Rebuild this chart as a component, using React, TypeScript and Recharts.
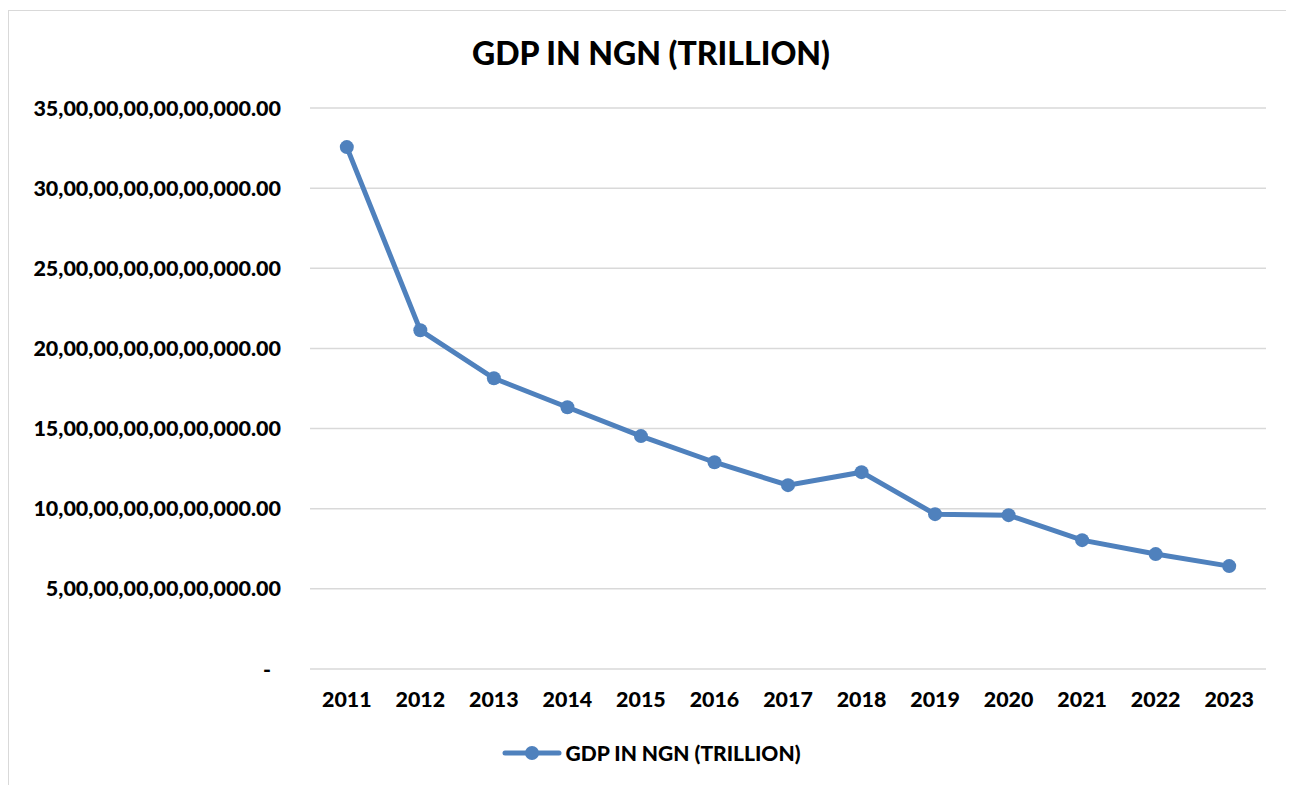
import React from "react";
import { LineChart, Line, XAxis, YAxis, CartesianGrid, Legend } from "recharts";

const years = ["2011","2012","2013","2014","2015","2016","2017","2018","2019","2020","2021","2022","2023"];
const gdpValues = [
  325600000000000, 211300000000000, 181400000000000, 163300000000000, 145300000000000,
  129000000000000, 114700000000000, 122800000000000, 96600000000000, 96000000000000,
  80400000000000, 71700000000000, 64200000000000,
];
const yTicks = [0, 50000000000000, 100000000000000, 150000000000000, 200000000000000, 250000000000000, 300000000000000, 350000000000000];
const seriesName = "GDP IN NGN (TRILLION)";
const title = "GDP IN NGN (TRILLION)";

const data = years.map((y, i) => ({ year: y, gdp: gdpValues[i] }));

const FONT = "Lato, 'Open Sans', sans-serif";
const COLOR = "#4f81bd";

function indian(v: number): string {
  if (v === 0) return "-";
  const s = Math.round(v).toString();
  if (s.length <= 3) return s + ".00";
  const last3 = s.slice(-3);
  let rest = s.slice(0, -3);
  const groups: string[] = [];
  while (rest.length > 2) {
    groups.unshift(rest.slice(-2));
    rest = rest.slice(0, -2);
  }
  if (rest.length) groups.unshift(rest);
  return groups.join(",") + "," + last3 + ".00";
}

const YTick = (props: any) => {
  const { x, y, payload } = props;
  const v = payload.value;
  const label = indian(v);
  const dx = v === 0 ? -10 : 0;
  return (
    <text x={x - 21 + dx} y={y} dy={7.5} textAnchor="end" fontFamily={FONT} fontWeight={900} fontSize={21.5} fill="#000">
      {label}
    </text>
  );
};

const XTick = (props: any) => {
  const { x, y, payload } = props;
  return (
    <text x={x} y={y} dy={30} textAnchor="middle" fontFamily={FONT} fontWeight={900} fontSize={21.4} fill="#000">
      {payload.value}
    </text>
  );
};

const LegendContent = () => (
  <div style={{ display: "flex", alignItems: "center", justifyContent: "center", width: "100%" }}>
    <svg width={60} height={20} style={{ marginRight: 4 }}>
      <line x1={3} y1={10} x2={57} y2={10} stroke={COLOR} strokeWidth={5} strokeLinecap="round" />
      <circle cx={30} cy={10} r={7} fill={COLOR} />
    </svg>
    <span style={{ fontFamily: FONT, fontWeight: 900, fontSize: 21, color: "#000" }}>{seriesName}</span>
  </div>
);

export default function App() {
  return (
    <div
      style={{
        position: "relative",
        width: 1286,
        height: 780,
        marginTop: 2,
        border: "1px solid #d9d9d9",
        boxSizing: "border-box",
        background: "#fff",
      }}
    >
      <div
        style={{
          position: "absolute",
          left: 0,
          width: 1284,
          top: 22,
          textAlign: "center",
          fontFamily: FONT,
          fontWeight: 900,
          fontSize: 32,
          color: "#000",
        }}
      >
        {title}
      </div>
      <LineChart
        width={1284}
        height={778}
        data={data}
        margin={{ top: 97, right: 27, left: 0, bottom: 56 }}
      >
        <CartesianGrid vertical={false} stroke="#d9d9d9" strokeWidth={1.5} />
        <XAxis
          dataKey="year"
          axisLine={false}
          tickLine={false}
          tick={<XTick />}
          height={40}
          interval={0}
          padding={{ left: 36.8, right: 36.8 }}
        />
        <YAxis
          width={301}
          domain={[0, 350000000000000]}
          ticks={yTicks}
          axisLine={false}
          tickLine={false}
          tick={<YTick />}
          interval={0}
        />
        <Legend
          content={<LegendContent />}
          wrapperStyle={{ position: "absolute", top: 729, left: 0, width: 1284, height: 24 }}
        />
        <Line
          type="linear"
          dataKey="gdp"
          name={seriesName}
          stroke={COLOR}
          strokeWidth={5}
          dot={{ r: 7, fill: COLOR, stroke: COLOR, strokeWidth: 0 }}
          activeDot={false}
          isAnimationActive={false}
        />
      </LineChart>
    </div>
  );
}
